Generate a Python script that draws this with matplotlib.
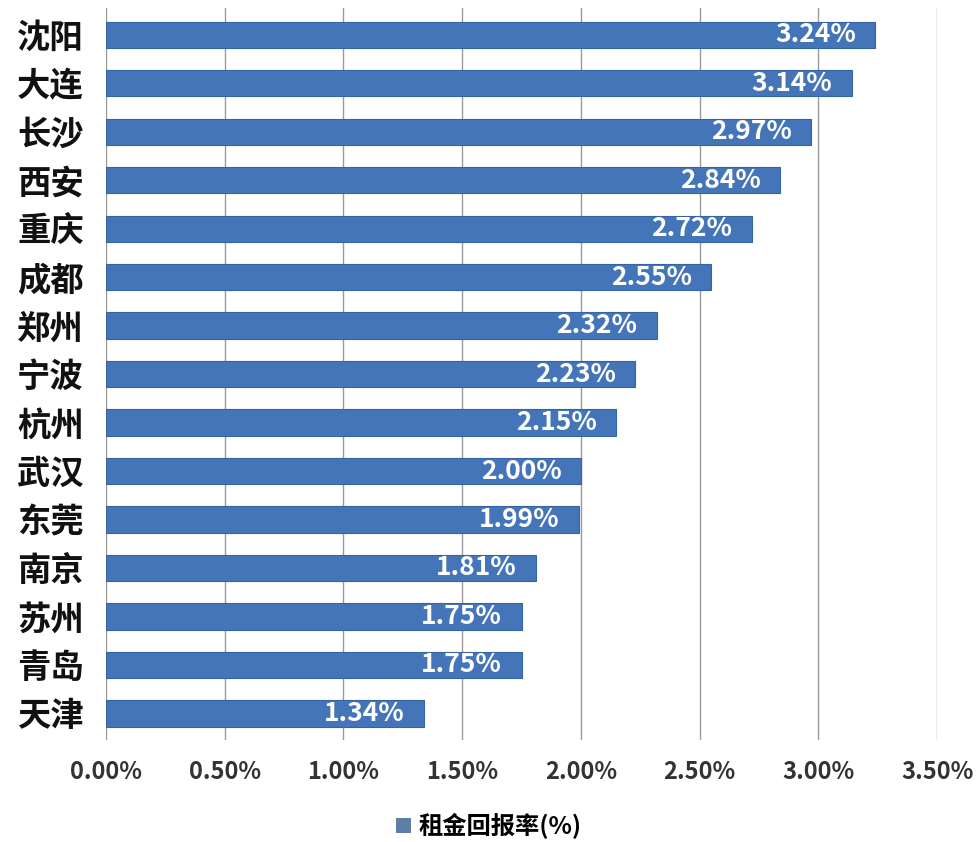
"""Rent yield by city: horizontal bar chart"""

import matplotlib
matplotlib.use('Agg')
import matplotlib.pyplot as plt
import matplotlib.ticker as ticker
from matplotlib.patches import Patch

plt.rcParams['font.family'] = ['Noto Sans CJK SC', 'DejaVu Sans']

# Data (top to bottom as shown)
cities = ['沈阳', '大连', '长沙', '西安', '重庆', '成都', '郑州', '宁波',
          '杭州', '武汉', '东莞', '南京', '苏州', '青岛', '天津']
yields = [3.24, 3.14, 2.97, 2.84, 2.72, 2.55, 2.32, 2.23,
          2.15, 2.00, 1.99, 1.81, 1.75, 1.75, 1.34]
x_ticks = [0, 0.5, 1.0, 1.5, 2.0, 2.5, 3.0, 3.5]
series_name = '租金回报率(%)'

BAR_COLOR = '#4575B9'
EDGE_COLOR = '#3563A6'

fig = plt.figure(figsize=(9.78, 8.42), dpi=100)
ax = fig.add_axes([0.1084, 0.121, 0.8497, 0.8695])

ypos = list(range(len(cities)))
bars = ax.barh(ypos, yields, height=0.54, color=BAR_COLOR,
               edgecolor=EDGE_COLOR, linewidth=0.8, zorder=3)

for y, v in zip(ypos, yields):
    ax.annotate(f'{v:.2f}%', xy=(v, y), xytext=(-14, 0), textcoords='offset points',
                ha='right', va='center', color='white', fontsize=19,
                fontweight='bold', zorder=4)

ax.set_xlim(0, 3.5)
ax.set_ylim(len(cities) - 0.45, -0.55)
ax.set_xticks(x_ticks)
ax.xaxis.set_major_formatter(ticker.FuncFormatter(lambda v, _: f'{v:.2f}%'))
ax.set_yticks(ypos)
ax.set_yticklabels(cities, fontsize=24, fontweight='bold', color='#111111')
ax.tick_params(axis='x', length=0, pad=14, labelsize=17, labelcolor='#333333')
ax.tick_params(axis='y', length=0, pad=16)
for lbl in ax.get_xticklabels():
    lbl.set_fontweight('bold')

ax.grid(axis='x', color='#9a9a9a', linewidth=1.0, zorder=0)
ax.grid(axis='y', visible=False)
for s in ax.spines.values():
    s.set_visible(False)

handle = Patch(facecolor='#5b7fa6', edgecolor='none')
fig.legend([handle], [series_name], loc='center', bbox_to_anchor=(0.5, 0.019),
           frameon=False, handlelength=0.6, handleheight=0.6, handletextpad=0.3,
           prop={'size': 17.5, 'weight': 'bold'})

plt.savefig('out.png', dpi=100)
plt.close()
